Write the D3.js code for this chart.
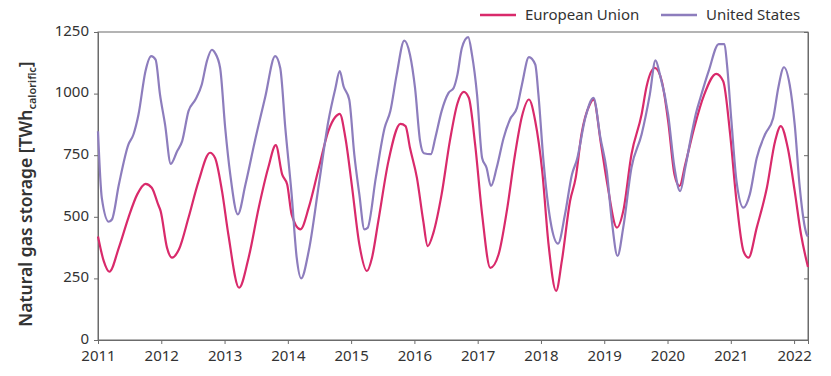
<!DOCTYPE html>
<html>
<head>
<meta charset="utf-8">
<script src="https://cdn.jsdelivr.net/npm/d3@7"></script>
<style>
  body { margin: 0; background: #fff; }
  svg { font-family: "Noto Sans", "Open Sans", sans-serif; }
</style>
</head>
<body>
<div id="chart"></div>
<script>
// --- Data (decimal year, TWh) ---
const seriesNames = ['European Union', 'United States'];
const yearTicks = [2011, 2012, 2013, 2014, 2015, 2016, 2017, 2018, 2019, 2020, 2021, 2022];
const valueTicks = [0, 250, 500, 750, 1000, 1250];

const euPoints = [
    [2011.00, 420], [2011.09, 321], [2011.18, 277], [2011.33, 375], [2011.48, 496], [2011.62, 591],
    [2011.75, 634], [2011.85, 618], [2011.95, 550], [2011.99, 523], [2012.09, 375], [2012.17, 334],
    [2012.28, 368], [2012.43, 496], [2012.59, 645], [2012.77, 760], [2012.85, 739], [2012.96, 604],
    [2013.06, 428], [2013.23, 212], [2013.38, 334], [2013.54, 537], [2013.69, 699], [2013.81, 791],
    [2013.91, 672], [2013.99, 631], [2014.06, 510], [2014.20, 449], [2014.33, 537], [2014.49, 699],
    [2014.64, 848], [2014.75, 905], [2014.82, 918], [2014.91, 820], [2015.01, 631], [2015.13, 388],
    [2015.25, 280], [2015.33, 334], [2015.43, 483], [2015.59, 726], [2015.78, 877], [2015.86, 868],
    [2015.93, 780], [2016.04, 658], [2016.14, 483], [2016.21, 381], [2016.30, 435], [2016.43, 591],
    [2016.56, 807], [2016.68, 960], [2016.78, 1007], [2016.86, 983], [2016.96, 793], [2017.07, 510],
    [2017.20, 293], [2017.33, 347], [2017.46, 523], [2017.59, 753], [2017.70, 908], [2017.81, 976],
    [2017.91, 888], [2018.02, 685], [2018.12, 388], [2018.24, 199], [2018.33, 321], [2018.46, 564],
    [2018.55, 660], [2018.64, 834], [2018.77, 955], [2018.83, 975], [2018.95, 793], [2019.05, 631],
    [2019.20, 456], [2019.30, 523], [2019.43, 753], [2019.59, 915], [2019.67, 1030], [2019.80, 1104],
    [2019.91, 1050], [2020.01, 888], [2020.11, 672], [2020.19, 625], [2020.28, 712], [2020.42, 860],
    [2020.58, 996], [2020.77, 1080], [2020.88, 1050], [2020.99, 834], [2021.09, 564], [2021.20, 361],
    [2021.28, 334], [2021.41, 456], [2021.57, 618], [2021.70, 807], [2021.79, 868], [2021.90, 780],
    [2022.01, 604], [2022.11, 428], [2022.22, 296]
];

const usPoints = [
    [2011.00, 847], [2011.06, 577], [2011.17, 480], [2011.22, 489], [2011.33, 631], [2011.48, 793],
    [2011.56, 834], [2011.64, 915], [2011.75, 1091], [2011.84, 1152], [2011.91, 1138], [2011.98, 996],
    [2012.06, 874], [2012.15, 715], [2012.25, 766], [2012.33, 807], [2012.43, 929], [2012.54, 976],
    [2012.64, 1037], [2012.72, 1131], [2012.80, 1178], [2012.85, 1165], [2012.93, 1104], [2013.01, 861],
    [2013.09, 672], [2013.21, 510], [2013.33, 631], [2013.49, 820], [2013.64, 983], [2013.80, 1152],
    [2013.88, 1104], [2013.96, 861], [2014.06, 591], [2014.14, 334], [2014.21, 250], [2014.33, 361],
    [2014.49, 631], [2014.64, 888], [2014.75, 1020], [2014.82, 1091], [2014.88, 1030], [2014.97, 976],
    [2015.05, 753], [2015.13, 591], [2015.21, 449], [2015.26, 455], [2015.39, 658], [2015.53, 861],
    [2015.62, 929], [2015.72, 1077], [2015.84, 1215], [2015.93, 1158], [2016.01, 1023], [2016.09, 807],
    [2016.15, 758], [2016.26, 754], [2016.33, 820], [2016.43, 929], [2016.54, 1003], [2016.62, 1023],
    [2016.68, 1077], [2016.75, 1185], [2016.85, 1229], [2016.91, 1158], [2016.99, 996], [2017.07, 739],
    [2017.14, 699], [2017.21, 625], [2017.30, 699], [2017.41, 820], [2017.51, 895], [2017.62, 942],
    [2017.70, 1037], [2017.81, 1148], [2017.91, 1118], [2017.96, 996], [2018.04, 726], [2018.15, 483],
    [2018.27, 391], [2018.38, 510], [2018.49, 672], [2018.57, 733], [2018.70, 901], [2018.83, 983],
    [2018.94, 820], [2019.04, 685], [2019.12, 483], [2019.21, 341], [2019.30, 456], [2019.43, 699],
    [2019.59, 834], [2019.72, 996], [2019.81, 1135], [2019.88, 1077], [2020.01, 915], [2020.11, 699],
    [2020.20, 604], [2020.28, 699], [2020.39, 848], [2020.45, 920], [2020.52, 983], [2020.65, 1091],
    [2020.81, 1201], [2020.90, 1201], [2020.94, 1118], [2021.01, 888], [2021.09, 645], [2021.20, 537],
    [2021.30, 591], [2021.41, 739], [2021.54, 834], [2021.67, 901], [2021.75, 1023], [2021.84, 1107],
    [2021.93, 1037], [2022.01, 874], [2022.09, 618], [2022.20, 428], [2022.22, 420]
];

const colors = ['#d92a6b', '#8d7dbd'];

// --- Layout ---
const W = 831, H = 376;
const margin = { top: 32, right: 23, bottom: 36, left: 98 };
const width = W - margin.left - margin.right;
const height = H - margin.top - margin.bottom;

const svg = d3.select('#chart')
    .append('svg')
    .attr('width', W)
    .attr('height', H);

const g = svg.append('g')
    .attr('transform', `translate(${margin.left}, ${margin.top})`);

const x = d3.scaleLinear()
    .domain([2011, 2022.22])
    .range([0, width]);

const y = d3.scaleLinear()
    .domain([0, 1250])
    .range([height, 0]);

// Frame
g.append('rect')
    .attr('width', width)
    .attr('height', height)
    .attr('fill', 'none')
    .attr('stroke', '#6b6b6b')
    .attr('stroke-width', 1);

// X axis
g.append('g')
    .attr('transform', `translate(0, ${height})`)
    .call(d3.axisBottom(x).tickValues(yearTicks).tickFormat(d3.format('d')).tickSizeOuter(0).tickSize(4).tickPadding(6));

// Y axis (left)
const yAxis = g.append('g')
    .call(d3.axisLeft(y).tickValues(valueTicks).tickFormat(d3.format('d')).tickSizeOuter(0).tickSize(4).tickPadding(5));
yAxis.selectAll('.tick text').attr('dy', '0.22em');

// Right-side ticks (inward)
g.append('g')
    .attr('transform', `translate(${width}, 0)`)
    .call(d3.axisRight(y).tickValues(valueTicks).tickSizeOuter(0).tickSize(-4).tickFormat(''));

g.selectAll('.domain').attr('stroke', '#6b6b6b');
g.selectAll('.tick line').attr('stroke', '#6b6b6b');
g.selectAll('.tick text')
    .style('font-size', '15px')
    .style('font-family', '"Noto Sans", "Open Sans", sans-serif')
    .attr('fill', '#333');

// Lines
const line = d3.line()
    .x(d => x(d[0]))
    .y(d => y(d[1]))
    .curve(d3.curveMonotoneX);

[euPoints, usPoints].forEach((pts, i) => {
    g.append('path')
        .datum(pts)
        .attr('fill', 'none')
        .attr('stroke', colors[i])
        .attr('stroke-width', 2.2)
        .attr('stroke-linejoin', 'round')
        .attr('d', line);
});

// Y label
const yLabel = svg.append('text')
    .attr('transform', `translate(32, ${margin.top + height / 2 + 8}) rotate(-90)`)
    .attr('text-anchor', 'middle')
    .style('font-size', '17.5px')
    .style('font-weight', 600)
    .attr('fill', '#333');
yLabel.append('tspan').text('Natural gas storage [TWh');
yLabel.append('tspan').text('calorific').style('font-size', '11px').attr('dy', 4);
yLabel.append('tspan').text(']').attr('dy', -4);

// Legend
const legendX = [480, 661];
seriesNames.forEach((name, i) => {
    const lg = svg.append('g').attr('transform', `translate(${legendX[i]}, 15)`);
    lg.append('line')
        .attr('x1', 0).attr('x2', 36)
        .attr('stroke', colors[i])
        .attr('stroke-width', 2.5);
    lg.append('text')
        .attr('x', 45)
        .attr('y', 5)
        .style('font-size', '15px')
        .attr('fill', '#333')
        .text(name);
});
</script>
</body>
</html>
